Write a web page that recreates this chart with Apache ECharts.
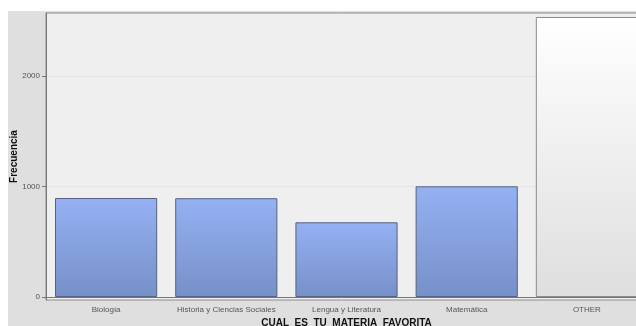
<!DOCTYPE html>
<html>
<head>
<meta charset="utf-8">
<script src="https://cdn.jsdelivr.net/npm/echarts@6/dist/echarts.min.js"></script>
<style>
  html, body { margin: 0; padding: 0; background: #ffffff; }
  #chart { width: 636px; height: 326px; }
</style>
</head>
<body>
<div id="chart"></div>
<script>
// Favourite subject survey: frequency per answer
const categories = ['Biología', 'Historia y Ciencias Sociales', 'Lengua y Literatura', 'Matemática', 'OTHER'];
const frequencies = [896, 894, 676, 1002, 2534];
const yTicks = [0, 1000, 2000];
const otherLabel = 'OTHER';

const blueFill = new echarts.graphic.LinearGradient(0, 0, 0, 1, [
  { offset: 0, color: '#95b1f3' },
  { offset: 1, color: '#7690c8' }
]);
const greyFill = new echarts.graphic.LinearGradient(0, 0, 0, 1, [
  { offset: 0, color: '#ffffff' },
  { offset: 1, color: '#dedede' }
]);

const barData = categories.map((c, i) => ({
  value: frequencies[i],
  itemStyle: c === otherLabel
    ? { color: greyFill, borderColor: '#8a8a8a', borderWidth: 1 }
    : { color: blueFill, borderColor: '#55627f', borderWidth: 1 }
}));

const chart = echarts.init(document.getElementById('chart'), null, { renderer: 'canvas' });
chart.setOption({
  backgroundColor: '#ffffff',
  animation: false,
  graphic: [{
    type: 'rect', z: -10, silent: true,
    shape: { x: 8, y: 11, width: 640, height: 330 },
    style: { fill: '#dfdfdf' }
  }],
  grid: {
    left: 46, top: 13, right: -11, bottom: 26,
    containLabel: false,
    outerBoundsMode: 'none',
    show: true, backgroundColor: '#efefef',
    borderColor: '#8c8c8c', borderWidth: 1
  },
  xAxis: {
    type: 'category',
    data: categories,
    name: 'CUAL_ES_TU_MATERIA_FAVORITA',
    nameLocation: 'middle',
    nameGap: 18,
    nameMoveOverlap: false,
    nameTextStyle: { fontFamily: 'Liberation Sans', fontWeight: 'bold', fontSize: 10, color: '#111', verticalAlign: 'top' },
    axisLine: { lineStyle: { color: '#777', width: 1 } },
    axisTick: { alignWithLabel: true, length: 3, lineStyle: { color: '#777' } },
    axisLabel: { margin: 6, fontSize: 8, fontFamily: 'Liberation Sans Narrow, Liberation Sans', color: '#555', interval: 0 }
  },
  yAxis: {
    type: 'value',
    min: -27,
    max: 2570,
    name: 'Frecuencia',
    nameLocation: 'middle',
    nameGap: 27,
    nameMoveOverlap: false,
    nameRotate: 90,
    nameTextStyle: { fontFamily: 'Liberation Sans', fontWeight: 'bold', fontSize: 10, color: '#111' },
    axisLine: { show: true, lineStyle: { color: '#777', width: 1 } },
    axisTick: { show: true, length: 4, customValues: yTicks, lineStyle: { color: '#777' } },
    axisLabel: {
      customValues: yTicks, margin: 6, fontSize: 8, fontFamily: 'Liberation Sans', color: '#555',
      formatter: v => String(v)
    },
    splitLine: { show: false }
  },
  series: [{
    type: 'bar',
    data: barData,
    barWidth: '85%',
    markLine: {
      silent: true,
      symbol: 'none',
      z: 0,
      label: { show: false },
      lineStyle: { color: '#e4e4e4', type: 'solid', width: 1 },
      data: yTicks.slice(1).map(v => ({ yAxis: v }))
    }
  }]
});
</script>
</body>
</html>
